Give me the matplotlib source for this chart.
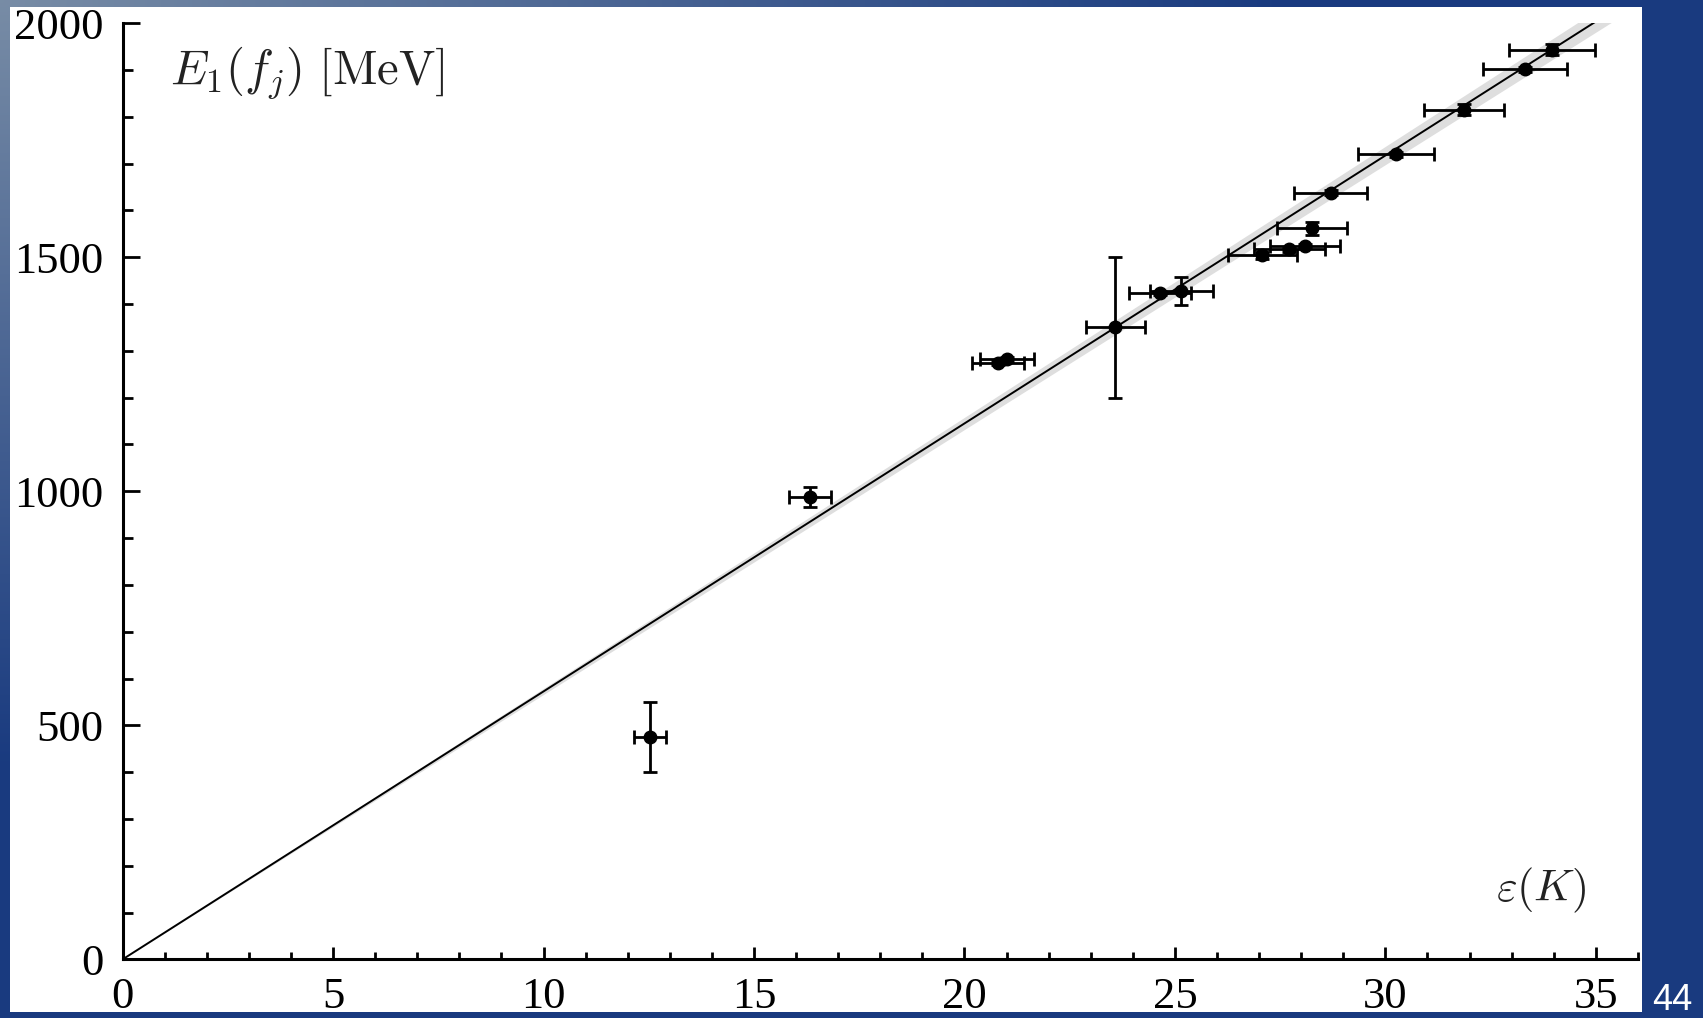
import numpy as np
import matplotlib
matplotlib.use("Agg")
import matplotlib.pyplot as plt
from matplotlib.ticker import MultipleLocator

# data
eps = [12.53, 16.33, 20.80, 21.00, 23.58, 24.65, 25.15, 27.08, 27.72, 28.09,
       28.26, 28.70, 30.25, 31.87, 33.32, 33.95]
eps_err = [0.38, 0.50, 0.62, 0.64, 0.70, 0.74, 0.75, 0.82, 0.84, 0.84,
           0.84, 0.87, 0.91, 0.96, 1.00, 1.02]
E1 = [475, 988, 1275, 1282, 1350, 1424, 1428, 1504, 1517, 1524,
      1562, 1638, 1720, 1815, 1902, 1944]
E1_err = [75, 22, 6, 6, 150, 5, 30, 8, 5, 5, 14, 5, 5, 12, 5, 12]

slope = 57.25        # fitted line E1 = slope * eps
slope_err = 0.65     # grey band
line_x = [0, 35]
band_x = [0, 35.5]

W, H, DPI = 1703, 1018, 100

plt.rcParams['font.family'] = ['Liberation Serif', 'DejaVu Serif']
plt.rcParams['mathtext.fontset'] = 'cm'

fig = plt.figure(figsize=(W / DPI, H / DPI), dpi=DPI, facecolor='white')

ax = fig.add_axes([122.7 / W, 58.7 / H, (1637.9 - 122.7) / W, (959.3 - 23.3) / H])
ax.set_facecolor('white')

bx = np.array(band_x)
ax.fill_between(bx, (slope - slope_err) * bx, (slope + slope_err) * bx,
                color='#dedede', lw=0, zorder=1)
lx = np.array(line_x)
ax.plot(lx, slope * lx, color='black', lw=1.4, zorder=2)

ax.errorbar(eps, E1, xerr=eps_err, yerr=E1_err, fmt='o', color='black',
            ms=9, elinewidth=2.0, capsize=5, capthick=2.0, zorder=3)

ax.set_xlim(0, 36)
ax.set_ylim(0, 2000)
ax.spines['top'].set_visible(False)
ax.spines['right'].set_visible(False)
for s in ('left', 'bottom'):
    ax.spines[s].set_linewidth(2.2)

ax.xaxis.set_major_locator(MultipleLocator(5))
ax.xaxis.set_minor_locator(MultipleLocator(1))
ax.yaxis.set_major_locator(MultipleLocator(500))
ax.yaxis.set_minor_locator(MultipleLocator(100))
ax.tick_params(axis='x', which='major', direction='in', length=9, width=2,
               labelsize=32, pad=13)
ax.tick_params(axis='x', which='minor', direction='in', length=5, width=2)
ax.tick_params(axis='y', which='major', direction='in', length=12, width=2,
               labelsize=32, pad=14)
ax.tick_params(axis='y', which='minor', direction='in', length=7, width=2)

ax.text(0.031, 0.947, r'$E_1(f_j)\ [\mathrm{MeV}]$', transform=ax.transAxes,
        fontsize=35, ha='left', va='center', color='#222222')
ax.text(0.966, 0.074, r'$\varepsilon(K)$', transform=ax.transAxes,
        fontsize=32, ha='right', va='center', color='#222222')

# slide frame: grey-blue gradient with a white window, drawn over the axes
yy, xx = np.mgrid[0:H, 0:W].astype(np.float32)
t = np.clip(np.sqrt((xx / W) ** 2 + (yy / H) ** 2) / 0.75, 0, 1)[..., None]
grey = np.array([0.47, 0.55, 0.65], dtype=np.float32)
blue = np.array([0.10, 0.23, 0.50], dtype=np.float32)
rgb = grey * (1 - t) + blue * t
alpha = np.ones((H, W, 1), dtype=np.float32)
alpha[7:1012, 10:1642] = 0
frame = np.concatenate([rgb, alpha], axis=2)

fax = fig.add_axes([0, 0, 1, 1], zorder=10)
fax.imshow(frame, extent=[0, W, H, 0], aspect='auto', interpolation='nearest')
fax.set_xlim(0, W)
fax.set_ylim(H, 0)
fax.axis('off')
fax.text(1672, 1000, '44', color='white', fontsize=26, ha='center', va='center',
         family='Liberation Sans')

fig.savefig('out.png', dpi=DPI, facecolor=fig.get_facecolor())
